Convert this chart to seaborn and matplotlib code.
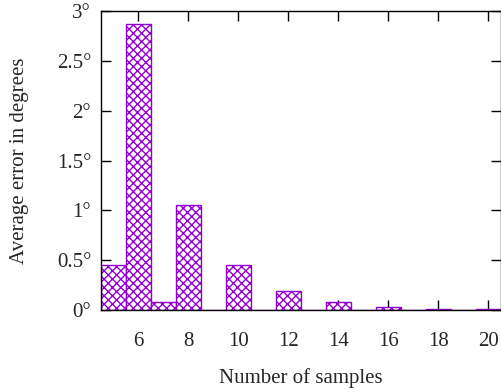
import matplotlib
matplotlib.use("Agg")
import matplotlib.pyplot as plt
import seaborn as sns
import pandas as pd

# values
samples = [5, 6, 7, 8, 9, 10, 11, 12, 13, 14, 15, 16, 17, 18, 19, 20]
avg_error = [0.45, 2.87, 0.08, 1.05, 0.005, 0.45, 0.003, 0.19, 0.003,
             0.077, 0.002, 0.03, 0.002, 0.015, 0.002, 0.01]
x_ticks = [6, 8, 10, 12, 14, 16, 18, 20]
y_ticks = [0, 0.5, 1, 1.5, 2, 2.5, 3]
y_tick_labels = ["0°", "0.5°", "1°", "1.5°", "2°", "2.5°", "3°"]

sns.set_style("ticks")
plt.rcParams['font.family'] = ['Liberation Serif', 'DejaVu Serif']
plt.rcParams['hatch.linewidth'] = 1.0

df = pd.DataFrame({"samples": samples, "error": avg_error})

fig = plt.figure(figsize=(5.02, 3.92), dpi=100)
ax = fig.add_axes([0.201, 0.209, 0.797, 0.763])

purple = "#9400d3"
sns.barplot(data=df, x="samples", y="error", native_scale=True, width=1,
            color="white", edgecolor=purple, linewidth=1, errorbar=None, ax=ax)
for p in ax.patches:
    p.set_facecolor("white")
    p.set_hatch("xxxx")

ax.set_xlim(4.5, 20.5)
ax.set_ylim(0, 3)
ax.set_xticks(x_ticks)
ax.set_xticklabels([str(t) for t in x_ticks])
ax.set_yticks(y_ticks)
ax.set_yticklabels(y_tick_labels)

for s in ax.spines.values():
    s.set_visible(True)
    s.set_linewidth(1.0)
    s.set_color("black")

ax.tick_params(axis="both", direction="in", length=7.5, width=1, color="black",
               labelsize=15, top=True, right=True)
ax.tick_params(axis="x", pad=16)
ax.tick_params(axis="y", pad=7)

ax.set_xlabel("Number of samples", fontsize=15, labelpad=12)
ax.set_ylabel("Average error in degrees", fontsize=15, labelpad=20)

fig.savefig("out.png", dpi=100)
